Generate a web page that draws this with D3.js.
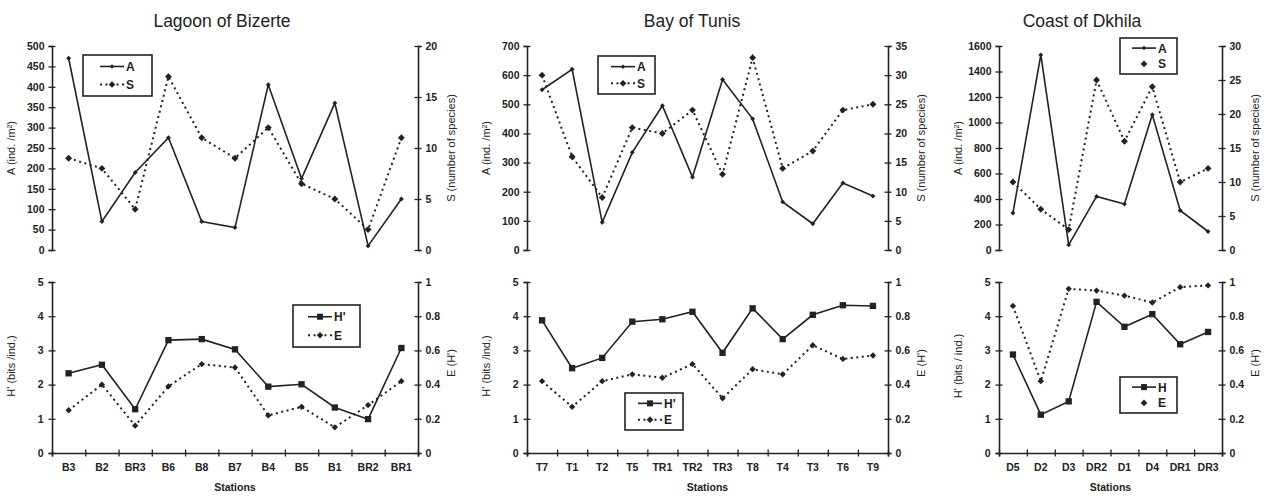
<!DOCTYPE html>
<html>
<head>
<meta charset="utf-8">
<script src="https://d3js.org/d3.v7.min.js"></script>
<style>
  body { margin: 0; background: #fff; }
  text { font-family: "Liberation Sans", Arial, sans-serif; fill: #222; }
</style>
</head>
<body>
<div class="vis"></div>
<script>
// ---- data ----
var bizStations = ["B3", "B2", "BR3", "B6", "B8", "B7", "B4", "B5", "B1", "BR2", "BR1"];
var bizA = [470, 70, 190, 275, 70, 55, 405, 175, 360, 10, 125];
var bizS = [9, 8, 4, 17, 11, 9, 12, 6.5, 5, 2, 11];
var bizH = [2.33, 2.58, 1.28, 3.30, 3.33, 3.03, 1.94, 2.01, 1.33, 0.99, 3.07];
var bizE = [0.25, 0.40, 0.16, 0.39, 0.52, 0.50, 0.22, 0.27, 0.15, 0.28, 0.42];

var tunStations = ["T7", "T1", "T2", "T5", "TR1", "TR2", "TR3", "T8", "T4", "T3", "T6", "T9"];
var tunA = [550, 620, 95, 335, 495, 250, 585, 450, 165, 90, 230, 185];
var tunS = [30, 16, 9, 21, 20, 24, 13, 33, 14, 17, 24, 25];
var tunH = [3.88, 2.48, 2.78, 3.84, 3.91, 4.13, 2.93, 4.23, 3.33, 4.04, 4.32, 4.30];
var tunE = [0.42, 0.27, 0.42, 0.46, 0.44, 0.52, 0.32, 0.49, 0.46, 0.63, 0.55, 0.57];

var dkhStations = ["D5", "D2", "D3", "DR2", "D1", "D4", "DR1", "DR3"];
var dkhA = [290, 1530, 40, 420, 360, 1060, 310, 145];
var dkhS = [10, 6, 3, 25, 16, 24, 10, 12];
var dkhH = [2.88, 1.12, 1.51, 4.42, 3.69, 4.06, 3.18, 3.54];
var dkhE = [0.86, 0.42, 0.96, 0.95, 0.92, 0.88, 0.97, 0.98];

var hTicks = [0, 1, 2, 3, 4, 5];
var eTicks = [0, 0.2, 0.4, 0.6, 0.8, 1];

var width = 1271, height = 496;
var ink = "#222";

var svg = d3.select('.vis')
    .append("svg")
    .attr("width", width)
    .attr("height", height);

svg.append("rect").attr("width", width).attr("height", height).attr("fill", "#fff");

// layout for each site (positions only)
var panels = [
    { title: "Lagoon of Bizerte", titleX: 222, left: 52, right: 418,
      stations: bizStations, A: bizA, S: bizS, H: bizH, E: bizE,
      aMax: 500, aStep: 50, sMax: 20, hName: "H'", hTitle: "H' (bits /ind.)",
      legTop: { x: 83, y: 55, w: 69, h: 41, lx: 100 },
      legBot: { x: 293, y: 305, w: 67, h: 42, lx: 308 }, sLine: true },
    { title: "Bay of Tunis", titleX: 692, left: 527, right: 888,
      stations: tunStations, A: tunA, S: tunS, H: tunH, E: tunE,
      aMax: 700, aStep: 100, sMax: 35, hName: "H'", hTitle: "H' (bits /ind.)",
      legTop: { x: 598, y: 56, w: 57, h: 38, lx: 611 },
      legBot: { x: 625, y: 393, w: 58, h: 37, lx: 638 }, sLine: true },
    { title: "Coast of Dkhila", titleX: 1082, left: 999, right: 1222,
      stations: dkhStations, A: dkhA, S: dkhS, H: dkhH, E: dkhE,
      aMax: 1600, aStep: 200, sMax: 30, hName: "H", hTitle: "H' (bits / ind.)",
      legTop: { x: 1120, y: 38, w: 57, h: 36, lx: 1132 },
      legBot: { x: 1120, y: 377, w: 57, h: 36, lx: 1132 }, sLine: false }
];

var topY = [250, 46], botY = [453, 282];
var plain = d => String(+(+d).toFixed(1));

function crossTicks(g, dir) {
    g.select(".domain").attr("stroke", ink).attr("stroke-width", 1.6);
    g.selectAll(".tick line").attr("stroke", ink).attr("stroke-width", 1.3)
        .attr(dir == "x" ? "y1" : "x1", -3.5).attr(dir == "x" ? "y2" : "x2", 3.5);
    g.selectAll(".tick text").attr("font-size", 10.5).attr("font-weight", "bold").attr("fill", "#333");
}

// square marker, or the same square turned 45 degrees for a diamond
function markerAttrs(sel, shape, size) {
    return sel.attr("d", d3.symbol().type(d3.symbolSquare).size(size))
        .attr("fill", ink)
        .attr("data-rot", shape == "diamond" ? 45 : 0);
}

function drawSeries(g, x, y, stations, values, dotted, shape, size) {
    var pts = stations.map((s, i) => [x(s) + x.bandwidth() / 2, y(values[i])]);
    g.append("path")
        .attr("d", d3.line()(pts))
        .attr("fill", "none")
        .attr("stroke", ink)
        .attr("stroke-width", dotted ? 2 : 1.6)
        .attr("stroke-dasharray", dotted ? "2,3.5" : null);
    g.selectAll(null).data(pts).join("path")
        .attr("transform", d => `translate(${d[0]},${d[1]}) rotate(${shape == "diamond" ? 45 : 0})`)
        .call(s => markerAttrs(s, shape, size));
}

function legend(g, L, items) {
    g.append("rect").attr("x", L.x).attr("y", L.y).attr("width", L.w).attr("height", L.h)
        .attr("fill", "#fff").attr("stroke", ink).attr("stroke-width", 1.6);
    items.forEach((it, i) => {
        var cy = L.y + L.h * (i == 0 ? 0.28 : 0.72);
        var lx0 = L.lx, lx1 = L.lx + 24;
        if (it.line) {
            g.append("line").attr("x1", lx0).attr("x2", lx1).attr("y1", cy).attr("y2", cy)
                .attr("stroke", ink).attr("stroke-width", it.dotted ? 2 : 1.6)
                .attr("stroke-dasharray", it.dotted ? "2,3.5" : null);
        }
        g.append("path")
            .attr("transform", `translate(${(lx0 + lx1) / 2},${cy}) rotate(${it.shape == "diamond" ? 45 : 0})`)
            .call(s => markerAttrs(s, it.shape, it.size));
        g.append("text").attr("x", lx1 + 2).attr("y", cy + 4.5)
            .attr("font-size", 12).attr("font-weight", "bold").attr("fill", "#333").text(it.name);
    });
}

function yTitle(g, x, y, label) {
    g.append("text")
        .attr("transform", `translate(${x},${y}) rotate(-90)`)
        .attr("text-anchor", "middle")
        .attr("font-size", 11)
        .attr("fill", "#333")
        .text(label);
}

panels.forEach(p => {
    var g = svg.append("g");

    g.append("text").attr("x", p.titleX).attr("y", 27).attr("text-anchor", "middle")
        .attr("font-size", 17.5).attr("fill", "#333").text(p.title);

    var x = d3.scaleBand().domain(p.stations).range([p.left, p.right]).padding(0);

    // ---- top chart: A (left) and S (right) ----
    var yA = d3.scaleLinear().domain([0, p.aMax]).range(topY);
    var yS = d3.scaleLinear().domain([0, p.sMax]).range(topY);

    g.append("g").attr("transform", `translate(${p.left},0)`)
        .call(d3.axisLeft(yA).tickValues(d3.range(0, p.aMax + 1, p.aStep)).tickFormat(plain).tickSize(3.5).tickPadding(4))
        .call(a => crossTicks(a, "y"));
    g.append("g").attr("transform", `translate(${p.right},0)`)
        .call(d3.axisRight(yS).tickValues(d3.range(0, p.sMax + 1, 5)).tickFormat(plain).tickSize(3.5).tickPadding(4))
        .call(a => crossTicks(a, "y"));

    yTitle(g, p.left - 37, 148, "A (ind. /m\u00B2)");
    yTitle(g, p.right + 37, 148, "S (number of species)");

    drawSeries(g, x, yS, p.stations, p.S, true, "diamond", 24);
    drawSeries(g, x, yA, p.stations, p.A, false, "diamond", 12);

    legend(g, p.legTop, [
        { name: "A", line: true, dotted: false, shape: "diamond", size: 10 },
        { name: "S", line: p.sLine, dotted: true, shape: "diamond", size: 22 }
    ]);

    // ---- bottom chart: H' (left) and E (right) ----
    var yH = d3.scaleLinear().domain([0, 5]).range(botY);
    var yE = d3.scaleLinear().domain([0, 1]).range(botY);

    var xTicks = d3.scaleLinear().domain([0, p.stations.length]).range([p.left, p.right]);
    g.append("g").attr("transform", `translate(0,${botY[0]})`)
        .call(d3.axisBottom(xTicks).tickValues(d3.range(0, p.stations.length + 1)).tickFormat("").tickSize(3.5))
        .call(a => crossTicks(a, "x"));
    g.append("g").attr("transform", `translate(0,${botY[0]})`)
        .call(d3.axisBottom(x).tickSize(0).tickPadding(11))
        .call(a => a.select(".domain").remove())
        .call(a => a.selectAll(".tick text").attr("font-size", 10.5).attr("font-weight", "bold").attr("fill", "#333"));

    g.append("g").attr("transform", `translate(${p.left},0)`)
        .call(d3.axisLeft(yH).tickValues(hTicks).tickFormat(plain).tickSize(3.5).tickPadding(5))
        .call(a => crossTicks(a, "y"));
    g.append("g").attr("transform", `translate(${p.right},0)`)
        .call(d3.axisRight(yE).tickValues(eTicks).tickFormat(plain).tickSize(3.5).tickPadding(4))
        .call(a => crossTicks(a, "y"));

    yTitle(g, p.left - 37, 366, p.hTitle);
    yTitle(g, p.right + 37, 363, "E (H')");

    g.append("text").attr("x", (p.left + p.right) / 2).attr("y", 491).attr("text-anchor", "middle")
        .attr("font-size", 10.5).attr("font-weight", "bold").attr("fill", "#333").text("Stations");

    drawSeries(g, x, yE, p.stations, p.E, true, "diamond", 20);
    drawSeries(g, x, yH, p.stations, p.H, false, "square", 40);

    legend(g, p.legBot, [
        { name: p.hName, line: true, dotted: false, shape: "square", size: 36 },
        { name: "E", line: p.sLine, dotted: true, shape: "diamond", size: 22 }
    ]);
});
</script>
</body>
</html>
